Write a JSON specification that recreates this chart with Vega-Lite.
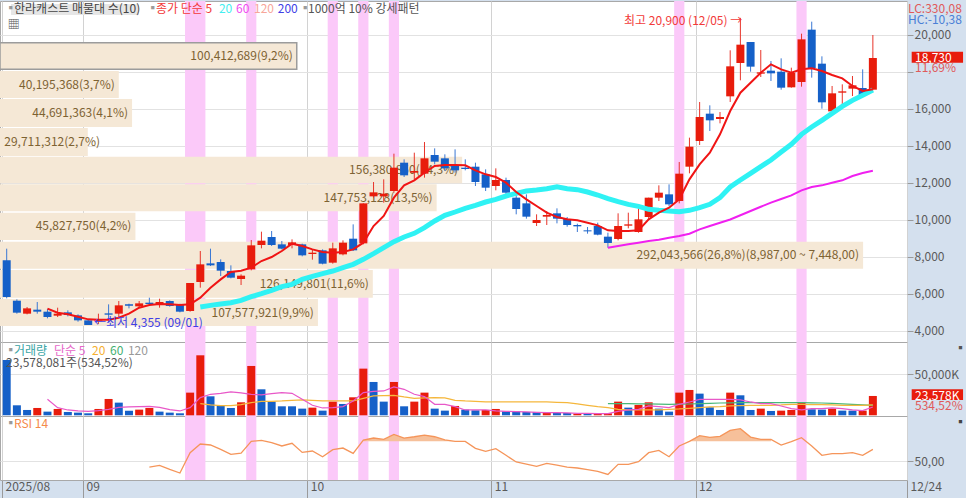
{
  "$schema": "https://vega.github.io/schema/vega-lite/v6.json",
  "padding": {"left": -2, "top": 0, "right": 2, "bottom": 0},
  "background": "#d4e0ee",
  "spacing": 0,
  "bounds": "flush",
  "resolve": {"scale": {"fill": "independent"}},
  "config": {
    "view": {"stroke": "#a8a8a8", "fill": "#ffffff"},
    "concat": {"spacing": 0},
    "text": {"font": "Noto Sans CJK KR", "fontSize": 12, "align": "left", "baseline": "middle"},
    "axis": {"labelFont": "Noto Sans CJK KR", "labelFontSize": 12, "labelColor": "#5a5a5a", "gridColor": "#e2e2e2", "tickColor": "#9a9a9a", "domain": false}
  },
  "datasets": {
    "bands": [
      {"from": 17.5, "to": 19.5}, {"from": 23.5, "to": 24.5}, {"from": 31.5, "to": 32.5},
      {"from": 34.5, "to": 35.5}, {"from": 37.5, "to": 38.5}, {"from": 65.5, "to": 66.5}, {"from": 77.5, "to": 78.5}
    ],
    "profile": [
      {"vol": 100412689, "labelAt": 100412689, "top": 19557, "bot": 18119, "mid": 18838, "t": "100,412,689(9,2%)"},
      {"vol": 40195368, "labelAt": 40195368, "top": 18027, "bot": 16568, "mid": 17297, "t": "40,195,368(3,7%)"},
      {"vol": 44691363, "labelAt": 44691363, "top": 16514, "bot": 15000, "mid": 15757, "t": "44,691,363(4,1%)"},
      {"vol": 29711312, "labelAt": 35200000, "top": 14946, "bot": 13433, "mid": 14190, "t": "29,711,312(2,7%)"},
      {"vol": 156380850, "labelAt": 156380850, "top": 13395, "bot": 11957, "mid": 12676, "t": "156,380,850(14,3%)"},
      {"vol": 147753128, "labelAt": 147753128, "top": 11903, "bot": 10444, "mid": 11174, "t": "147,753,128(13,5%)"},
      {"vol": 45827750, "labelAt": 45827750, "top": 10368, "bot": 8892, "mid": 9630, "t": "45,827,750(4,2%)"},
      {"vol": 292043566, "labelAt": 292043566, "top": 8801, "bot": 7341, "mid": 8071, "t": "292,043,566(26,8%)(8,987,00 ~ 7,448,00)"},
      {"vol": 126149801, "labelAt": 126149801, "top": 7271, "bot": 5774, "mid": 6522, "t": "126,149,801(11,6%)"},
      {"vol": 107577921, "labelAt": 107577921, "top": 5704, "bot": 4244, "mid": 4974, "t": "107,577,921(9,9%)"}
    ],
    "priceTags": [
      {"from": 0.42, "to": 12.98, "top": 21649, "bot": 21054, "tone": "titlebox"},
      {"from": 88.81, "to": 93.85, "top": 19070, "bot": 18476, "tone": "tag"}
    ],
    "priceNotes": [
      {"i": -0.2, "y": 21378, "t": "▪", "tone": "dot"},
      {"i": 0.72, "y": 21378, "t": "한라캐스트 매물대 수(10)", "tone": "title"},
      {"i": 13.75, "y": 21378, "t": "▪", "tone": "dot"},
      {"i": 14.65, "y": 21378, "t": "종가 단순 5", "tone": "red"},
      {"i": 20.83, "y": 21378, "t": "20", "tone": "cyan"},
      {"i": 22.5, "y": 21378, "t": "60", "tone": "magenta"},
      {"i": 24.27, "y": 21378, "t": "120", "tone": "salmon"},
      {"i": 26.6, "y": 21378, "t": "200", "tone": "blue"},
      {"i": 28.7, "y": 21378, "t": "▪", "tone": "dot"},
      {"i": 29.57, "y": 21378, "t": "1000억 10% 강세패턴", "tone": "ink"},
      {"i": 0.1, "y": 20540, "t": "▦", "tone": "ink"},
      {"i": 60.58, "y": 20730, "t": "최고 20,900 (12/05) →", "tone": "red"},
      {"i": 8.57, "y": 4423, "t": "←최저 4,355 (09/01)", "tone": "blue"},
      {"i": 88.45, "y": 21378, "t": "LC:330,08", "tone": "lc"},
      {"i": 88.45, "y": 20784, "t": "HC:-10,38", "tone": "hc"},
      {"i": 89.14, "y": 18730, "t": "18,730", "tone": "white"},
      {"i": 89.14, "y": 18189, "t": "11,69%", "tone": "lc"}
    ],
    "volTags": [
      {"from": 88.81, "to": 93.85, "top": 31707, "bot": 18659}
    ],
    "volNotes": [
      {"i": -0.2, "y": 78415, "t": "▪", "tone": "dot"},
      {"i": 0.72, "y": 78415, "t": "거래량", "tone": "teal"},
      {"i": 4.64, "y": 78415, "t": "단순 5", "tone": "pink"},
      {"i": 8.37, "y": 78415, "t": "20", "tone": "orange"},
      {"i": 10.14, "y": 78415, "t": "60", "tone": "green"},
      {"i": 11.9, "y": 78415, "t": "120", "tone": "gray"},
      {"i": -0.07, "y": 63780, "t": "23,578,081주(534,52%)", "tone": "ink"},
      {"i": 89.14, "y": 23578, "t": "23,578K", "tone": "white"},
      {"i": 89.14, "y": 11341, "t": "534,52%", "tone": "lc"},
      {"i": 93, "y": 80850, "t": "▪", "tone": "ink"}
    ],
    "rsiNotes": [
      {"i": -0.2, "y": 87.6, "t": "▪", "tone": "dot"},
      {"i": 0.72, "y": 87.6, "t": "RSI 14", "tone": "rsi"},
      {"i": 93, "y": 88.6, "t": "▪", "tone": "ink"}
    ],
    "rsiLevels": [{"level": 70, "kind": "upper"}],
    "rows": [
      {"i":0,"o":7793,"h":8424,"l":5740,"c":5811,"v":67479,"u":0},
      {"i":1,"o":5613,"h":5685,"l":4911,"c":4965,"v":12195,"u":0},
      {"i":2,"o":4911,"h":5271,"l":4875,"c":5199,"v":6504,"u":0},
      {"i":3,"o":5127,"h":5541,"l":4911,"c":5019,"v":8943,"u":1},
      {"i":4,"o":5019,"h":5163,"l":4658,"c":4730,"v":4472,"u":0,"m5":5181,"vm5":19512},
      {"i":5,"o":4802,"h":5235,"l":4730,"c":4911,"v":7724,"u":1,"m5":4965,"vm5":9350},
      {"i":6,"o":4982,"h":5091,"l":4766,"c":4838,"v":4065,"u":0,"m5":4875,"vm5":6504},
      {"i":7,"o":4820,"h":4875,"l":4478,"c":4550,"v":3252,"u":0,"m5":4749,"vm5":5285},
      {"i":8,"o":4550,"h":4604,"l":4370,"c":4298,"v":2439,"u":0,"m5":4604,"vm5":4878},
      {"i":9,"o":4500,"h":4910,"l":4355,"c":4550,"v":7724,"u":1,"m5":4586,"vm5":5691},
      {"i":10,"o":4928,"h":5415,"l":4460,"c":4856,"v":19919,"u":1,"m5":4586,"vm5":7317},
      {"i":11,"o":4911,"h":5595,"l":4694,"c":5361,"v":15447,"u":0,"m5":4694,"vm5":9756},
      {"i":12,"o":5415,"h":5451,"l":5199,"c":5343,"v":5691,"u":0,"m5":4911,"vm5":10163},
      {"i":13,"o":5307,"h":5595,"l":5271,"c":5469,"v":6911,"u":1,"m5":5235,"vm5":10569},
      {"i":14,"o":5505,"h":5775,"l":5415,"c":5433,"v":8943,"u":1,"m5":5379,"vm5":10976,"r":43.9},
      {"i":15,"o":5415,"h":5721,"l":5235,"c":5541,"v":4472,"u":0,"m5":5433,"vm5":9756,"r":45.6},
      {"i":16,"o":5595,"h":5631,"l":5289,"c":5325,"v":3252,"u":0,"m5":5415,"vm5":6911,"r":41.5},
      {"i":17,"o":5379,"h":5451,"l":4983,"c":5019,"v":2439,"u":0,"m5":5379,"vm5":5285,"r":37.8},
      {"i":18,"o":5055,"h":6568,"l":5019,"c":6568,"v":27642,"u":1,"m5":5415,"vm5":9350,"r":58.5},
      {"i":19,"o":6622,"h":8298,"l":6316,"c":7577,"v":73170,"u":1,"m5":5775,"m20":5271,"vm5":21545,"vm20":14228,"r":67.3},
      {"i":20,"o":7631,"h":8424,"l":7487,"c":7523,"v":23171,"u":0,"m5":6316,"m20":5361,"vm5":25610,"vm20":12602,"r":66.3},
      {"i":21,"o":7703,"h":7847,"l":6947,"c":7235,"v":11382,"u":0,"m5":6766,"m20":5433,"vm5":26829,"vm20":11789,"r":61.9},
      {"i":22,"o":7217,"h":7523,"l":6820,"c":6857,"v":8943,"u":0,"m5":7163,"m20":5505,"vm5":28455,"vm20":11789,"r":56.8},
      {"i":23,"o":6784,"h":7037,"l":6460,"c":6965,"v":15854,"u":1,"m5":7235,"m20":5631,"vm5":27236,"vm20":13008,"r":58.1},
      {"i":24,"o":7307,"h":8892,"l":7253,"c":8604,"v":60162,"u":1,"m5":7397,"m20":5829,"vm5":25610,"vm20":15447,"r":70},
      {"i":25,"o":8622,"h":9343,"l":8442,"c":8856,"v":31707,"u":0,"m5":7757,"m20":5992,"vm5":24797,"vm20":17073,"r":71},
      {"i":26,"o":9055,"h":9379,"l":8568,"c":8622,"v":16667,"u":0,"m5":7974,"m20":6172,"vm5":26423,"vm20":17073,"r":68.6},
      {"i":27,"o":8658,"h":8838,"l":8388,"c":8424,"v":10976,"u":0,"m5":8298,"m20":6370,"vm5":27642,"vm20":17480,"r":65.3},
      {"i":28,"o":8622,"h":8928,"l":8442,"c":8766,"v":10976,"u":0,"m5":8694,"m20":6496,"vm5":26829,"vm20":18293,"r":68},
      {"i":29,"o":8658,"h":8694,"l":8010,"c":8064,"v":8130,"u":0,"m5":8568,"m20":6766,"vm5":19512,"vm20":18699,"r":58.8},
      {"i":30,"o":8136,"h":8388,"l":7829,"c":8208,"v":9350,"u":1,"m5":8388,"m20":6929,"vm5":12195,"vm20":18293,"r":60.2},
      {"i":31,"o":8334,"h":8388,"l":7577,"c":7613,"v":5691,"u":0,"m5":8244,"m20":7073,"vm5":8943,"vm20":17480,"r":54.4},
      {"i":32,"o":7667,"h":8748,"l":7613,"c":8442,"v":16667,"u":1,"m5":8208,"m20":7217,"vm5":9350,"vm20":17480,"r":61.5},
      {"i":33,"o":8118,"h":8874,"l":8064,"c":8748,"v":13821,"u":0,"m5":8244,"m20":7397,"vm5":10569,"vm20":17480,"r":63.2},
      {"i":34,"o":8964,"h":9739,"l":8298,"c":8334,"v":21951,"u":1,"m5":8388,"m20":7577,"vm5":17480,"vm20":17480,"r":57.8},
      {"i":35,"o":8712,"h":10874,"l":8658,"c":10874,"v":56910,"u":1,"m5":8748,"m20":7847,"vm5":27642,"vm20":20732,"r":71.4,"over":71.4},
      {"i":36,"o":11253,"h":12027,"l":11181,"c":11469,"v":40650,"u":0,"m5":9649,"m20":8154,"vm5":29268,"vm20":23577,"r":73.4,"over":73.4},
      {"i":37,"o":11253,"h":12172,"l":10910,"c":11397,"v":16667,"u":0,"m5":10190,"m20":8478,"vm5":29675,"vm20":23984,"r":72,"over":72},
      {"i":38,"o":11541,"h":13559,"l":11451,"c":12802,"v":40650,"u":1,"m5":11181,"m20":8802,"vm5":34553,"vm20":24390,"r":77.1,"over":77.1},
      {"i":39,"o":13072,"h":13252,"l":12298,"c":12388,"v":10976,"u":0,"m5":11847,"m20":9055,"vm5":31707,"vm20":22358,"r":73.4,"over":73.4},
      {"i":40,"o":12532,"h":13613,"l":12172,"c":12622,"v":16667,"u":1,"m5":12118,"m20":9253,"vm5":25610,"vm20":20732,"r":74.7,"over":74.7},
      {"i":41,"o":12478,"h":14189,"l":12262,"c":13307,"v":27642,"u":1,"m5":12532,"m20":9559,"vm5":22764,"vm20":21138,"r":76.4,"over":76.4},
      {"i":42,"o":13487,"h":13847,"l":12982,"c":13126,"v":8130,"u":0,"m5":12892,"m20":9920,"vm5":13415,"vm20":21545,"r":74.7,"over":74.7},
      {"i":43,"o":13307,"h":13523,"l":12622,"c":12766,"v":5691,"u":0,"m5":12946,"m20":10226,"vm5":13415,"vm20":21138,"r":71.4,"over":71.4},
      {"i":44,"o":12892,"h":13793,"l":12532,"c":12658,"v":11382,"u":1,"m5":12946,"m20":10406,"vm5":10569,"vm20":18293,"r":70,"over":70},
      {"i":45,"o":12802,"h":13252,"l":12658,"c":12730,"v":6911,"u":0,"m5":12928,"m20":10604,"vm5":6504,"vm20":17480,"r":70},
      {"i":46,"o":12856,"h":13072,"l":11811,"c":12027,"v":6098,"u":0,"m5":12658,"m20":10766,"vm5":6504,"vm20":17073,"r":62.9},
      {"i":47,"o":12442,"h":12712,"l":11541,"c":11721,"v":6504,"u":1,"m5":12442,"m20":10946,"vm5":6504,"vm20":16260,"r":59.8},
      {"i":48,"o":11811,"h":12766,"l":11577,"c":12135,"v":7724,"u":1,"m5":12298,"m20":11091,"vm5":5285,"vm20":16260,"r":62.5},
      {"i":49,"o":12135,"h":12262,"l":11217,"c":11451,"v":4878,"u":0,"m5":11991,"m20":11271,"vm5":4878,"vm20":16260,"r":55.8},
      {"i":50,"o":11181,"h":11487,"l":10280,"c":10568,"v":4878,"u":0,"m5":11487,"m20":11415,"vm5":4472,"vm20":16260,"r":49},
      {"i":51,"o":10874,"h":11361,"l":10046,"c":10154,"v":4065,"u":0,"m5":11091,"m20":11541,"vm5":4065,"vm20":16260,"r":46.9},
      {"i":52,"o":9811,"h":10280,"l":9649,"c":9973,"v":4065,"u":0,"m5":10730,"m20":11595,"vm5":3659,"vm20":16260,"r":44.6},
      {"i":53,"o":10154,"h":10460,"l":9703,"c":10244,"v":3252,"u":1,"m5":10370,"m20":11667,"vm5":3252,"vm20":16260,"r":47.6},
      {"i":54,"o":10334,"h":10604,"l":9793,"c":10046,"v":2846,"u":0,"m5":10136,"m20":11775,"vm5":3252,"vm20":15854,"r":45.9},
      {"i":55,"o":10028,"h":10136,"l":9613,"c":9703,"v":2846,"u":0,"m5":10010,"m20":11667,"vm5":2846,"vm20":15447,"r":43.9},
      {"i":56,"o":9703,"h":9775,"l":9325,"c":9631,"v":2033,"u":1,"m5":9955,"m20":11613,"vm5":2439,"vm20":13821,"r":42.9},
      {"i":57,"o":9415,"h":9595,"l":9235,"c":9361,"v":1626,"u":0,"m5":9829,"m20":11487,"vm5":2439,"vm20":12195,"r":41.2},
      {"i":58,"o":9649,"h":9829,"l":9145,"c":9181,"v":2033,"u":1,"m5":9685,"m20":11325,"vm5":2033,"vm20":10569,"r":39.5},
      {"i":59,"o":9073,"h":9289,"l":8478,"c":8730,"v":2439,"u":1,"m5":9415,"m20":11127,"m60":8478,"vm5":2033,"vm20":9350,"vm60":14228,"r":36.4},
      {"i":60,"o":8946,"h":10334,"l":8874,"c":9649,"v":16667,"u":1,"m5":9379,"m20":10964,"m60":8568,"vm5":4878,"vm20":7317,"vm60":14228,"r":46.6},
      {"i":61,"o":9667,"h":10370,"l":9523,"c":9739,"v":9350,"u":0,"m5":9379,"m20":10820,"m60":8658,"vm5":6504,"vm20":6504,"vm60":14228,"r":46.6},
      {"i":62,"o":9325,"h":10640,"l":9289,"c":10010,"v":12602,"u":1,"m5":9415,"m20":10712,"m60":8748,"vm5":7317,"vm20":6504,"vm60":14000,"r":49.3},
      {"i":63,"o":10136,"h":11181,"l":10010,"c":11181,"v":15854,"u":1,"m5":10010,"m20":10550,"m60":8838,"vm5":11382,"vm20":6504,"vm60":13821,"r":58.5},
      {"i":64,"o":11181,"h":11847,"l":11000,"c":11451,"v":8130,"u":0,"m5":10370,"m20":10496,"m60":8910,"vm5":10569,"vm20":6504,"vm60":13600,"r":60.8},
      {"i":65,"o":11361,"h":11901,"l":10730,"c":10820,"v":4472,"u":0,"m5":10640,"m20":10460,"m60":9019,"vm5":9350,"vm20":7317,"vm60":13415,"r":54.4},
      {"i":66,"o":11001,"h":13109,"l":10874,"c":12478,"v":27642,"u":1,"m5":11091,"m20":10424,"m60":9109,"vm5":13415,"vm20":7724,"vm60":13600,"r":65.3},
      {"i":67,"o":12856,"h":14424,"l":12496,"c":13937,"v":30894,"u":1,"m5":12172,"m20":10496,"m60":9235,"vm5":16260,"vm20":8537,"vm60":13800,"r":70,"over":70},
      {"i":68,"o":14244,"h":16352,"l":14028,"c":15541,"v":26423,"u":0,"m5":12983,"m20":10640,"m60":9469,"vm5":19512,"vm20":9350,"vm60":14200,"r":75.8,"over":75.8},
      {"i":69,"o":15721,"h":16172,"l":14784,"c":15361,"v":9756,"u":0,"m5":13613,"m20":10820,"m60":9649,"vm5":19512,"vm20":10163,"vm60":14600,"r":74.1,"over":74.1},
      {"i":70,"o":15433,"h":15811,"l":15199,"c":15541,"v":6504,"u":0,"m5":14604,"m20":11181,"m60":9829,"vm5":19512,"vm20":10569,"vm60":15000,"r":75.1,"over":75.1},
      {"i":71,"o":16658,"h":19145,"l":16352,"c":18280,"v":27642,"u":1,"m5":15865,"m20":11757,"m60":10000,"vm5":19512,"vm20":11382,"vm60":15200,"r":81.2,"over":81.2},
      {"i":72,"o":18460,"h":20900,"l":17523,"c":19451,"v":24390,"u":0,"m5":16856,"m20":12135,"m60":10230,"vm5":18699,"vm20":11789,"vm60":15447,"r":82.9,"over":82.9},
      {"i":73,"o":19595,"h":19595,"l":17991,"c":18262,"v":6504,"u":0,"m5":17397,"m20":12496,"m60":10460,"vm5":16260,"vm20":12195,"vm60":15447,"r":74.4,"over":74.4},
      {"i":74,"o":17883,"h":19163,"l":17703,"c":17955,"v":8130,"u":1,"m5":17937,"m20":12857,"m60":10690,"vm5":14228,"vm20":12195,"vm60":15447,"r":72,"over":72},
      {"i":75,"o":18045,"h":18568,"l":17487,"c":17901,"v":5285,"u":0,"m5":18388,"m20":13217,"m60":10911,"vm5":14228,"vm20":12195,"vm60":15447,"r":72,"over":72},
      {"i":76,"o":17991,"h":18712,"l":17018,"c":17126,"v":5691,"u":1,"m5":18118,"m20":13649,"m60":11110,"vm5":11382,"vm20":12602,"vm60":15447,"r":66.3},
      {"i":77,"o":17145,"h":18207,"l":17126,"c":17919,"v":6504,"u":1,"m5":17937,"m20":14064,"m60":11307,"vm5":8130,"vm20":13415,"vm60":15447,"r":69.7},
      {"i":78,"o":17433,"h":20045,"l":17180,"c":19739,"v":15447,"u":1,"m5":18118,"m20":14604,"m60":11577,"vm5":6504,"vm20":13415,"vm60":15447,"r":73.7},
      {"i":79,"o":20262,"h":20694,"l":17667,"c":18190,"v":7317,"u":0,"m5":18172,"m20":15000,"m60":11757,"vm5":8130,"vm20":13008,"vm60":15200,"r":65.3},
      {"i":80,"o":18424,"h":18820,"l":15991,"c":16334,"v":6911,"u":0,"m5":18027,"m20":15361,"m60":11847,"vm5":8130,"vm20":13008,"vm60":15000,"r":55.8},
      {"i":81,"o":15847,"h":17217,"l":15811,"c":16820,"v":8130,"u":1,"m5":17811,"m20":15739,"m60":11991,"vm5":8943,"vm20":12602,"vm60":14500,"r":57.5},
      {"i":82,"o":16856,"h":17307,"l":16172,"c":16928,"v":5691,"u":0,"m5":17631,"m20":16118,"m60":12118,"vm5":8130,"vm20":12195,"vm60":14000,"r":57.5},
      {"i":83,"o":17073,"h":17757,"l":16676,"c":17253,"v":5691,"u":0,"m5":17217,"m20":16442,"m60":12352,"vm5":6504,"vm20":12195,"vm60":13400,"r":58.5},
      {"i":84,"o":17109,"h":18117,"l":16640,"c":16694,"v":5691,"u":1,"m5":16946,"m20":16712,"m60":12514,"vm5":5691,"vm20":12195,"vm60":12800,"r":55.8},
      {"i":85,"o":17018,"h":19973,"l":16982,"c":18730,"v":23578,"u":1,"m5":17037,"m20":17001,"m60":12640,"vm5":10163,"vm20":12602,"vm60":12195,"r":61.9}
    ]
  },
  "vconcat": [
    {
      "width": 907,
      "height": 341,
      "resolve": {"scale": {"x": "independent"}},
      "layer": [
        {
          "data": {"name": "bands"},
          "mark": {"type": "rect", "color": "#fbc9f9"},
          "encoding": {
            "x": {"field": "from", "type": "quantitative", "title": null,
              "scale": {"domain": [-0.657, 88.35], "nice": false, "zero": false, "padding": 0},
              "axis": {"values": [-0.46, 7.49, 29.5, 47.56, 67.6, 88.35], "grid": true, "gridColor": "#d2d2d2", "labels": false, "ticks": false, "title": null}},
            "x2": {"field": "to"}
          }
        },
        {
          "data": {"name": "profile"},
          "encoding": {
            "x": {"field": "vol", "type": "quantitative", "title": null,
              "scale": {"domain": [0, 306900000], "nice": false, "zero": false, "padding": 0}, "axis": null}
          },
          "layer": [
            {
              "mark": {"type": "rect", "color": "#f5e8d6", "strokeWidth": 1.5},
              "encoding": {
                "x2": {"datum": 0},
                "y": {"field": "top", "type": "quantitative", "title": null,
                  "scale": {"domain": [3380, 21811], "nice": false, "zero": false},
                  "axis": {"orient": "right", "title": null, "values": [4000, 6000, 8000, 10000, 12000, 14000, 16000, 18000, 20000],
                    "grid": true, "tickSize": 6, "labelPadding": 1,
                    "labelExpr": "datum.value == 18000 ? '' : format(datum.value, ',')"}},
                "y2": {"field": "bot"},
                "stroke": {"condition": {"test": "datum.vol == 100412689", "value": "#9c9c9c"}, "value": "transparent"}
              }
            },
            {
              "mark": {"type": "text", "align": "right", "dx": -4, "color": "#7d6232"},
              "encoding": {
                "x": {"field": "labelAt", "type": "quantitative"},
                "y": {"field": "mid", "type": "quantitative"},
                "text": {"field": "t"}
              }
            }
          ]
        },
        {
          "encoding": {
            "x": {"field": "i", "type": "quantitative", "title": null,
              "scale": {"domain": [-0.657, 88.35], "nice": false, "zero": false, "padding": 0}, "axis": null}
          },
          "layer": [
            {
              "data": {"name": "rows"},
              "mark": {"type": "rule", "strokeWidth": 1},
              "encoding": {
                "y": {"field": "l", "type": "quantitative"},
                "y2": {"field": "h"},
                "color": {"condition": {"test": "datum.c >= datum.o", "value": "#e8342a"}, "value": "#3a78d4"}
              }
            },
            {
              "data": {"name": "rows"},
              "mark": {"type": "bar", "size": 8, "orient": "vertical"},
              "encoding": {
                "y": {"field": "o", "type": "quantitative"},
                "y2": {"field": "c"},
                "color": {"condition": {"test": "datum.c >= datum.o", "value": "#e81c0c"}, "value": "#1560c8"}
              }
            },
            {
              "data": {"name": "rows"},
              "mark": {"type": "line", "color": "#f020f0", "strokeWidth": 2},
              "encoding": {"y": {"field": "m60", "type": "quantitative"}}
            },
            {
              "data": {"name": "rows"},
              "mark": {"type": "line", "color": "#2ff2f4", "strokeWidth": 5},
              "encoding": {"y": {"field": "m20", "type": "quantitative"}}
            },
            {
              "data": {"name": "rows"},
              "mark": {"type": "line", "color": "#f01414", "strokeWidth": 2},
              "encoding": {"y": {"field": "m5", "type": "quantitative"}}
            },
            {
              "data": {"name": "priceTags"},
              "mark": {"type": "rect"},
              "encoding": {
                "x": {"field": "from", "type": "quantitative"},
                "x2": {"field": "to"},
                "y": {"field": "top", "type": "quantitative"},
                "y2": {"field": "bot"},
                "color": {"field": "tone", "type": "nominal", "legend": null,
                  "scale": {"domain": ["titlebox", "tag"], "range": ["#e6e6e6", "#e81c0c"]}}
              }
            },
            {
              "data": {"name": "priceNotes"},
              "mark": {"type": "text"},
              "encoding": {
                "y": {"field": "y", "type": "quantitative"},
                "text": {"field": "t"},
                "fill": {"field": "tone", "type": "nominal", "legend": null,
                  "scale": {"domain": ["dot", "title", "red", "cyan", "magenta", "salmon", "blue", "ink", "lc", "hc", "white"],
                    "range": ["#9a9a9a", "#444444", "#f23a3a", "#45eef0", "#f04cf0", "#f7a69a", "#4040e6", "#555555", "#e05a5a", "#4a7fd6", "#ffffff"]}}
              }
            }
          ]
        }
      ]
    },
    {
      "width": 907,
      "height": 74,
      "encoding": {
        "x": {"field": "i", "type": "quantitative", "title": null,
          "scale": {"domain": [-0.657, 88.35], "nice": false, "zero": false, "padding": 0},
          "axis": {"values": [-0.46, 7.49, 29.5, 47.56, 67.6, 88.35], "grid": true, "gridColor": "#d2d2d2", "labels": false, "ticks": false, "title": null}}
      },
      "layer": [
        {
          "data": {"name": "bands"},
          "mark": {"type": "rect", "color": "#fbc9f9"},
          "encoding": {
            "x": {"field": "from", "type": "quantitative"},
            "x2": {"field": "to"}
          }
        },
        {
          "data": {"name": "rows"},
          "mark": {"type": "bar", "size": 8, "orient": "vertical"},
          "encoding": {
            "y": {"field": "v", "type": "quantitative", "title": null,
              "scale": {"domain": [-854, 89389], "nice": false, "zero": false},
              "axis": {"orient": "right", "title": null, "values": [50000], "grid": true, "tickSize": 6, "labelPadding": 1, "labelExpr": "'50,000K'"}},
            "color": {"condition": {"test": "datum.u == 1", "value": "#e81c0c"}, "value": "#1560c8"}
          }
        },
        {
          "data": {"name": "rows"},
          "mark": {"type": "line", "color": "#48b878", "strokeWidth": 1.2},
          "encoding": {"y": {"field": "vm60", "type": "quantitative"}}
        },
        {
          "data": {"name": "rows"},
          "mark": {"type": "line", "color": "#f5b73c", "strokeWidth": 1.2},
          "encoding": {"y": {"field": "vm20", "type": "quantitative"}}
        },
        {
          "data": {"name": "rows"},
          "mark": {"type": "line", "color": "#e858c8", "strokeWidth": 1.2},
          "encoding": {"y": {"field": "vm5", "type": "quantitative"}}
        },
        {
          "data": {"name": "volTags"},
          "mark": {"type": "rect", "color": "#e81c0c"},
          "encoding": {
            "x": {"field": "from", "type": "quantitative"},
            "x2": {"field": "to"},
            "y": {"field": "top", "type": "quantitative"},
            "y2": {"field": "bot"}
          }
        },
        {
          "data": {"name": "volNotes"},
          "mark": {"type": "text"},
          "encoding": {
            "y": {"field": "y", "type": "quantitative"},
            "text": {"field": "t"},
            "fill": {"field": "tone", "type": "nominal", "legend": null,
              "scale": {"domain": ["dot", "teal", "pink", "orange", "green", "gray", "ink", "white", "lc"],
                "range": ["#9a9a9a", "#3aa6a6", "#e566c8", "#f5b030", "#45b070", "#999999", "#555555", "#ffffff", "#e05a5a"]}}
          }
        }
      ]
    },
    {
      "width": 907,
      "height": 64,
      "encoding": {
        "x": {"field": "i", "type": "quantitative", "title": null,
          "scale": {"domain": [-0.657, 88.35], "nice": false, "zero": false, "padding": 0},
          "axis": {"values": [-0.46, 7.49, 29.5, 47.56, 67.6, 88.35], "grid": true, "gridColor": "#d2d2d2", "title": null,
            "tickSize": 19, "labelAlign": "left", "labelBaseline": "middle", "labelPadding": -13, "labelOffset": 3, "labelFlush": false,
            "labelExpr": "datum.value < 0 ? '2025/08' : datum.value < 10 ? '09' : datum.value < 30 ? '10' : datum.value < 50 ? '11' : datum.value < 70 ? '12' : '12/24'"}}
      },
      "layer": [
        {
          "data": {"name": "bands"},
          "mark": {"type": "rect", "color": "#fbc9f9"},
          "encoding": {
            "x": {"field": "from", "type": "quantitative"},
            "x2": {"field": "to"}
          }
        },
        {
          "data": {"name": "rows"},
          "mark": {"type": "area", "color": "#f6c09a", "opacity": 1},
          "encoding": {
            "y": {"field": "over", "type": "quantitative", "title": null,
              "scale": {"domain": [30.7, 95.8], "nice": false, "zero": false},
              "axis": {"orient": "right", "title": null, "values": [50], "grid": true, "tickSize": 6, "labelPadding": 1, "labelExpr": "'50,00'"}},
            "y2": {"datum": 70}
          }
        },
        {
          "data": {"name": "rsiLevels"},
          "mark": {"type": "rule", "color": "#9a9a9a", "strokeWidth": 1.2},
          "encoding": {"y": {"field": "level", "type": "quantitative"}}
        },
        {
          "data": {"name": "rows"},
          "mark": {"type": "line", "color": "#f5955a", "strokeWidth": 1.3},
          "encoding": {"y": {"field": "r", "type": "quantitative"}}
        },
        {
          "data": {"name": "rsiNotes"},
          "mark": {"type": "text"},
          "encoding": {
            "y": {"field": "y", "type": "quantitative"},
            "text": {"field": "t"},
            "fill": {"field": "tone", "type": "nominal", "legend": null,
              "scale": {"domain": ["dot", "rsi", "ink"], "range": ["#9a9a9a", "#f58a4a", "#444444"]}}
          }
        }
      ]
    }
  ]
}
